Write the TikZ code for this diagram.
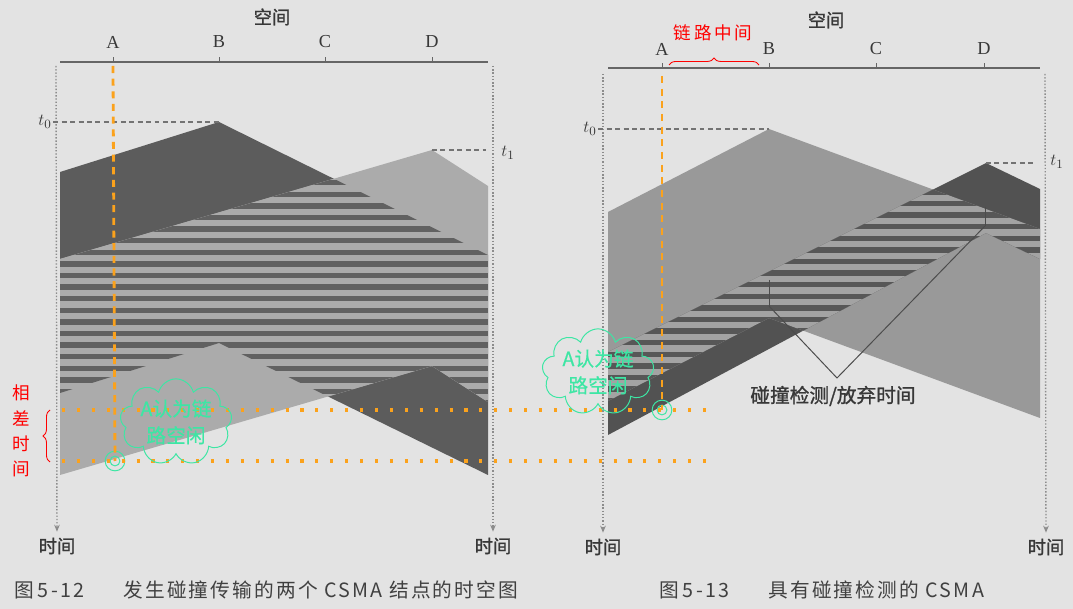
\documentclass[tikz,border=0pt]{standalone}
\usepackage{fontspec}
\setmainfont{Liberation Serif}
\newfontfamily\cjk{Noto Sans CJK SC}
\newfontfamily\cjkb[FakeBold=1.2]{Noto Sans CJK SC}
\newfontfamily\notefont[FakeBold=0.6]{Noto Sans CJK SC}
\newfontfamily\capfont[LetterSpace=11]{Noto Sans CJK SC}
\usetikzlibrary{positioning,arrows.meta,calc,decorations.pathreplacing,shapes.symbols}
\definecolor{paper}{HTML}{E3E3E3}
\definecolor{amber}{HTML}{FBA21C}
\definecolor{mint}{HTML}{3DE6A4}

\begin{document}
\begin{tikzpicture}[x=0.025cm, y=-0.025cm,
    lbl/.style={font=\fontsize{13}{15}\selectfont, text=black!78, inner sep=1pt},
    cjklbl/.style={font=\cjkb\fontsize{13}{15}\selectfont, text=black!78, inner sep=1pt},
    axisln/.style={black!60, line width=1pt},
    timeax/.style={black!45, line width=1pt, dash pattern=on 1pt off 1.3pt,
                   -{Stealth[length=5pt,width=4pt]}, shorten >=3pt},
    tline/.style={black!55, line width=0.8pt, dash pattern=on 3.5pt off 2.5pt},
    hint/.style={amber, line width=2pt, dash pattern=on 5pt off 4pt},
    lvl/.style={amber, line width=2.2pt, dash pattern=on 2.2pt off 8.4pt},
    ring/.style={circle, draw=mint, line width=0.7pt, minimum size=7pt, inner sep=0pt},
    bubble/.style={cloud, draw=mint, line width=0.7pt, cloud puffs=9, aspect=1.6,
                   minimum width=2.7cm, minimum height=1.75cm, inner sep=0pt, align=center,
                   text=mint, font=\notefont\fontsize{14}{19}\selectfont},
    redtxt/.style={text=red, font=\cjk\fontsize{12.5}{18}\selectfont, align=center},
    redbrace/.style={red, line width=0.6pt, decorate, decoration={brace, amplitude=5pt}},
    captxt/.style={font=\capfont\fontsize{14}{15}\selectfont, text=black!75, anchor=west}
  ]
  \fill[paper] (0,0) rectangle (1073,609);
  \useasboundingbox (0,0) rectangle (1073,609);

  % --- Fig 5-12: CSMA, two colliding frames ---
  \fill[black!64] (60,172) -- (219,122) -- (488,255) -- (488,475) -- (219,343) -- (60,393) -- cycle;
  \fill[black!33] (60,259) -- (432,150) -- (488,186) -- (488,402) -- (432,366) -- (60,475) -- cycle;
  \begin{scope}
    \clip (60,172) -- (219,122) -- (488,255) -- (488,475) -- (219,343) -- (60,393) -- cycle;
    \clip (60,259) -- (432,150) -- (488,186) -- (488,402) -- (432,366) -- (60,475) -- cycle;
    \fill[black!33] (60,100) rectangle (488,500);
    \foreach \k in {0,...,22}
      \fill[black!62] (60,{180+11.6*\k}) rectangle (488,{185.5+11.6*\k});
  \end{scope}

  \draw[axisln] (60,62) -- (488,62);
  \foreach \x/\n in {113/A,219/B,325/C,432/D} {
    \draw[axisln, line width=0.6pt] (\x,62) -- (\x,57);
    \node[lbl] (l\n) at (\x,42) {\n};
  }
  \node[cjklbl] (spaceL) at (272,17) {空间};
  \node[cjklbl] (timeL1) at (57,546) {时间};
  \node[cjklbl] (timeL2) at (493,546) {时间};
  \coordinate (topL1) at (56,66);
  \coordinate (topL2) at (493,66);
  \draw[timeax] (topL1) -- (timeL1.north);
  \draw[timeax] (topL2) -- (timeL2.north);

  \node[lbl] (t0L) at (45,122) {$t_0$};
  \coordinate (peakBL) at (219,122);
  \draw[tline] (peakBL -| t0L.east) -- (peakBL);
  \node[lbl] (t1L) at (508,153) {$t_1$};
  \coordinate (peakDL) at (432,150);
  \draw[tline, shorten >=10pt] (peakDL) -- (peakDL -| t1L.west);

  % --- Fig 5-13: CSMA with collision detection ---
  \fill[black!40] (608,212) -- (769,129) -- (1040,229) -- (1040,418) -- (769,318) -- (608,401) -- cycle;
  \fill[black!68] (608,352) -- (986,163) -- (1040,189) -- (1040,259) -- (986,233) -- (608,435) -- cycle;
  \begin{scope}
    \clip (608,212) -- (769,129) -- (1040,229) -- (1040,418) -- (769,318) -- (608,401) -- cycle;
    \clip (608,352) -- (986,163) -- (1040,189) -- (1040,259) -- (986,233) -- (608,435) -- cycle;
    \fill[black!36] (608,100) rectangle (1040,500);
    \foreach \k in {0,...,22}
      \fill[black!66] (608,{166+11.6*\k}) rectangle (1040,{171.5+11.6*\k});
  \end{scope}

  \draw[axisln] (608,68) -- (1040,68);
  \foreach \x/\n in {662/A,769/B,876/C,984/D} {
    \draw[axisln, line width=0.6pt] (\x,68) -- (\x,63);
    \node[lbl] (r\n) at (\x,49) {\n};
  }
  \node[cjklbl] (spaceR) at (826,20) {空间};
  \node[cjklbl] (timeR1) at (603,547) {时间};
  \node[cjklbl] (timeR2) at (1046,547) {时间};
  \coordinate (topR1) at (603,74);
  \coordinate (topR2) at (1045,74);
  \draw[timeax] (topR1) -- (timeR1.north);
  \draw[timeax] (topR2) -- (timeR2.north);

  \node[lbl] (t0R) at (590,129) {$t_0$};
  \coordinate (peakBR) at (769,129);
  \draw[tline] (peakBR -| t0R.east) -- (peakBR);
  \node[lbl] (t1R) at (1057,162) {$t_1$};
  \coordinate (peakDR) at (986,163);
  \draw[tline, shorten >=10pt] (peakDR) -- (peakDR -| t1R.west);

  % detection / abort marks
  \coordinate (detB) at (769,306);
  \coordinate (detV) at (837,378);
  \coordinate (detD) at (985,226);
  \draw[black!70, line width=0.7pt] (detB) -- (detV) -- (detD);
  \draw[black!70, line width=0.7pt] (769,280) -- (detB) (985,207) -- (detD);
  \node[cjklbl, font=\cjkb\fontsize{14}{15}\selectfont] (abortTxt) at (833,396) {碰撞检测/放弃时间};

  % --- notes ---
  \node[ring] (ringL) at (115,461) {};
  \node[ring] (ringR) at (662,410) {};
  \draw[mint, line width=0.7pt] (ringL) circle[radius=7pt];
  \draw[mint, line width=0.7pt] (ringR) circle[radius=7pt];
  \coordinate (AtopL) at (113,66);
  \coordinate (AtopR) at (662,76);
  \draw[hint] (AtopL) -- (ringL.center);
  \draw[hint] (AtopR) -- (ringR.center);

  \coordinate (lvlUa) at (62,410);
  \coordinate (lvlUb) at (708,410);
  \coordinate (lvlDa) at (62,461);
  \coordinate (lvlDb) at (712,461);
  \draw[lvl] (lvlUa) -- (lvlUb);
  \draw[lvl] (lvlDa) -- (lvlDb);

  \node[bubble] (cloudL) at (176,422) {A认为链\\路空闲};
  \node[bubble] (cloudR) at (598,372) {A认为链\\路空闲};

  \coordinate (gapTop) at (50,410);
  \coordinate (gapBot) at (50,462);
  \draw[redbrace] (gapBot) -- (gapTop);
  \node[redtxt] (gapTxt) at (21,431) {相\\差\\时\\间};

  \coordinate (linkA) at (669,65);
  \coordinate (linkB) at (759,65);
  \draw[redbrace] (linkA) -- (linkB);
  \node[redtxt] (linkTxt) at (713,33) {链\hspace{2pt}路\hspace{2pt}中\hspace{2pt}间};

  % --- captions ---
  \node[captxt] (capL) at (10,590) {图\,5-12\hspace{2em}发生碰撞传输的两个 CSMA 结点的时空图};
  \node[captxt] (capR) at (655,590) {图\,5-13\hspace{2em}具有碰撞检测的 CSMA};
\end{tikzpicture}
\end{document}
